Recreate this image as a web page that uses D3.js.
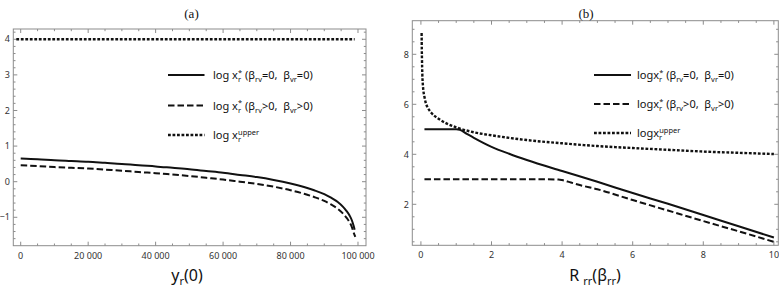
<!DOCTYPE html>
<html><head><meta charset="utf-8">
<script src="https://cdn.jsdelivr.net/npm/d3@7"></script>
<style>body{margin:0;background:#fff} svg{display:block} text{white-space:pre}</style>
</head><body><svg id="c" width="779" height="287"></svg>
<script>
// ---------- Panel (a) data ----------
const aX = [0,5000,10000,15000,20000,25000,30000,35000,40000,45000,50000,55000,60000,65000,70000,75000,80000,84000,87000,90000,92000,94000,95500,96500,97500,98200,98700,99000];
const aSolid = [0.65,0.63,0.60,0.58,0.56,0.53,0.50,0.46,0.43,0.39,0.35,0.30,0.25,0.19,0.13,0.05,-0.05,-0.15,-0.24,-0.35,-0.45,-0.57,-0.70,-0.81,-0.95,-1.09,-1.24,-1.35];
const aDashedX = [0,5000,10000,15000,20000,25000,30000,35000,40000,45000,50000,55000,60000,65000,70000,75000,80000,84000,87000,90000,92000,94000,95500,96500,97500,98200,98700,99200];
const aDashed = [0.46,0.44,0.41,0.39,0.37,0.34,0.31,0.27,0.24,0.20,0.16,0.11,0.06,0.00,-0.06,-0.14,-0.24,-0.34,-0.43,-0.54,-0.64,-0.76,-0.89,-1.00,-1.14,-1.28,-1.43,-1.55];
const aUpperX = [-1300, 99000];
const aUpper = [4, 4];
const aXMajor = [0,20000,40000,60000,80000,100000];
const aXLabels = ["0","20 000","40 000","60 000","80 000","100 000"];
const aXMinor = [5000,10000,15000,25000,30000,35000,45000,50000,55000,65000,70000,75000,85000,90000,95000];
const aYMajor = [-1,0,1,2,3,4];
const aYLabels = ["\u22121","0","1","2","3","4"];
const aYMinor = [-1.6,-1.4,-1.2,-0.8,-0.6,-0.4,-0.2,0.2,0.4,0.6,0.8,1.2,1.4,1.6,1.8,2.2,2.4,2.6,2.8,3.2,3.4,3.6,3.8,4.2];

// ---------- Panel (b) data ----------
const bSolidX = [0.1,0.5,1.0,1.1,1.3,1.5,2,2.5,3,4,5,6,7,8,9,10];
const bSolid  = [5,5,5,4.98,4.82,4.66,4.3,4.02,3.77,3.33,2.9,2.45,2.02,1.57,1.12,0.67];
const bDashedX = [0.1,1,2,3,3.5,3.9,4.0,4.25,4.5,5,6,7,8,9,10];
const bDashed  = [3,3,3,3,3,2.99,2.97,2.87,2.77,2.6,2.17,1.75,1.33,0.92,0.5];
const bUpperX = [0.02,0.025,0.03,0.04,0.06,0.1,0.15,0.2,0.3,0.5,0.75,1,1.5,2,3,4,5,6,7,8,9,10];
const bUpper  = [8.85,8.2,7.8,7.2,6.7,6.3,6.0,5.85,5.65,5.42,5.22,5.08,4.88,4.76,4.57,4.44,4.33,4.25,4.18,4.11,4.06,4.01];
const bXMajor = [0,2,4,6,8,10];
const bXLabels = ["0","2","4","6","8","10"];
const bXMinor = [0.5,1,1.5,2.5,3,3.5,4.5,5,5.5,6.5,7,7.5,8.5,9,9.5];
const bYMajor = [2,4,6,8];
const bYLabels = ["2","4","6","8"];
const bYMinor = [0.5,1,1.5,2.5,3,3.5,4.5,5,5.5,6.5,7,7.5,8.5,9];

const svg = d3.select("#c");
const FONT = "'Noto Sans', 'Open Sans', sans-serif";
const FRAME = "#8c8c8c";

const styles = {
  solid:  {w:2.0, dash:null},
  dashed: {w:2.0, dash:"6.5,3"},
  dotted: {w:2.4, dash:"2.8,1.7"}
};

function panel(cfg){
  const g = svg.append("g");
  const x = d3.scaleLinear().domain(cfg.xd).range([cfg.L, cfg.R]);
  const y = d3.scaleLinear().domain(cfg.yd).range([cfg.B, cfg.T]);
  const id = "clip"+cfg.name;
  svg.append("clipPath").attr("id", id).append("rect")
     .attr("x", cfg.L).attr("y", cfg.T).attr("width", cfg.R-cfg.L).attr("height", cfg.B-cfg.T);
  // frame
  g.append("rect").attr("x", cfg.L).attr("y", cfg.T).attr("width", cfg.R-cfg.L).attr("height", cfg.B-cfg.T)
   .attr("fill","none").attr("stroke",FRAME).attr("stroke-width",1);
  const tk = g.append("g").attr("stroke",FRAME).attr("stroke-width",1);
  const xt = (arr, len) => arr.forEach(v => {
    const px = x(v);
    tk.append("line").attr("x1",px).attr("x2",px).attr("y1",cfg.B).attr("y2",cfg.B-len);
    tk.append("line").attr("x1",px).attr("x2",px).attr("y1",cfg.T).attr("y2",cfg.T+len);
  });
  const yt = (arr, len) => arr.forEach(v => {
    const py = y(v);
    tk.append("line").attr("y1",py).attr("y2",py).attr("x1",cfg.L).attr("x2",cfg.L+len);
    tk.append("line").attr("y1",py).attr("y2",py).attr("x1",cfg.R).attr("x2",cfg.R-len);
  });
  xt(cfg.xMajor, 4); xt(cfg.xMinor, 2.2);
  yt(cfg.yMajor, 4); yt(cfg.yMinor, 2.2);
  cfg.xMajor.forEach((v,i) => g.append("text").attr("x", x(v)).attr("y", cfg.B+13)
     .attr("text-anchor","middle").attr("font-family",FONT).attr("font-size",9).attr("fill","#333").text(cfg.xLabels[i]));
  cfg.yMajor.forEach((v,i) => g.append("text").attr("x", cfg.L-3.5).attr("y", y(v)+3.2)
     .attr("text-anchor","end").attr("font-family",FONT).attr("font-size",9).attr("fill","#333").text(cfg.yLabels[i]));
  // curves
  const cg = g.append("g").attr("clip-path", `url(#${id})`);
  cfg.series.forEach(s => {
    const pts = s.x.map((v,i)=>[v, s.y[i]]);
    const st = styles[s.style];
    cg.append("path").attr("d", d3.line().x(d=>x(d[0])).y(d=>y(d[1])).curve(d3.curveMonotoneX)(pts))
      .attr("fill","none").attr("stroke","#111").attr("stroke-width",st.w)
      .attr("stroke-dasharray", st.dash);
  });
  // title
  g.append("text").attr("x", cfg.titleX).attr("y", 18).attr("text-anchor","middle")
   .attr("font-family","'Liberation Serif', 'Times New Roman', serif").attr("font-size",13).attr("fill","#111").text(cfg.title);
  return {g, x, y};
}

function richText(g, xPos, yPos, segs, size, anchor){
  const t = g.append("text").attr("x", xPos).attr("y", yPos).attr("font-family",FONT)
     .attr("font-size", size).attr("fill","#111").attr("text-anchor", anchor||"start");
  let cur = 0;
  segs.forEach(s => {
    let target = 0, fs = size;
    if (s.sub) { target = size*0.28; fs = size*0.68; }
    if (s.sup) { target = -size*0.38; fs = size*0.68; }
    const sp = t.append("tspan").attr("dy", target-cur).attr("font-size", fs).text(s.t);
    if (s.dx) sp.attr("dx", s.dx);
    cur = target;
  });
  return t;
}

function legend(g, x0, x1, tx, ys, logWord){
  const rows = [
    {style:"solid", segs:[{t:logWord},{t:"r",sub:true},{t:"*",sup:true,dx:-3},{t:" (\u03b2"},{t:"rv",sub:true},{t:"=0,  \u03b2"},{t:"vr",sub:true},{t:"=0)"}]},
    {style:"dashed", segs:[{t:logWord},{t:"r",sub:true},{t:"*",sup:true,dx:-3},{t:" (\u03b2"},{t:"rv",sub:true},{t:">0,  \u03b2"},{t:"vr",sub:true},{t:">0)"}]},
    {style:"dotted", segs:[{t:logWord},{t:"r",sub:true},{t:"upper",sup:true,dx:-3}]}
  ];
  rows.forEach((r,i) => {
    const st = styles[r.style];
    g.append("line").attr("x1",x0).attr("x2",x1).attr("y1",ys[i]).attr("y2",ys[i])
     .attr("stroke","#111").attr("stroke-width",st.w).attr("stroke-dasharray",st.dash);
    richText(g, tx, ys[i]+4, r.segs, 11);
  });
}

// Panel (a)
const pa = panel({name:"a", L:13.3, R:366, T:29, B:245.7, xd:[-2194,102372], yd:[-1.798,4.289],
  xMajor:aXMajor, xLabels:aXLabels, xMinor:aXMinor, yMajor:aYMajor, yLabels:aYLabels, yMinor:aYMinor,
  title:"(a)", titleX:191.5,
  series:[{x:aX,y:aSolid,style:"solid"},{x:aDashedX,y:aDashed,style:"dashed"},{x:aUpperX,y:aUpper,style:"dotted"}]});
legend(pa.g, 168, 204.5, 213, [75, 105.5, 135], "log x");
richText(pa.g, 187, 281, [{t:"y"},{t:"r",sub:true},{t:"(0)"}], 16, "middle");

// Panel (b)
const pb = panel({name:"b", L:412.3, R:778.3, T:20.7, B:245.3, xd:[-0.244,10.125], yd:[0.36,9.344],
  xMajor:bXMajor, xLabels:bXLabels, xMinor:bXMinor, yMajor:bYMajor, yLabels:bYLabels, yMinor:bYMinor,
  title:"(b)", titleX:586,
  series:[{x:bSolidX,y:bSolid,style:"solid"},{x:bDashedX,y:bDashed,style:"dashed"},{x:bUpperX,y:bUpper,style:"dotted"}]});
legend(pb.g, 594, 631, 637, [75, 104, 133], "logx");
richText(pb.g, 595, 281, [{t:"R "},{t:"rr",sub:true},{t:"(\u03b2"},{t:"rr",sub:true},{t:")"}], 16, "middle");
</script></body></html>
